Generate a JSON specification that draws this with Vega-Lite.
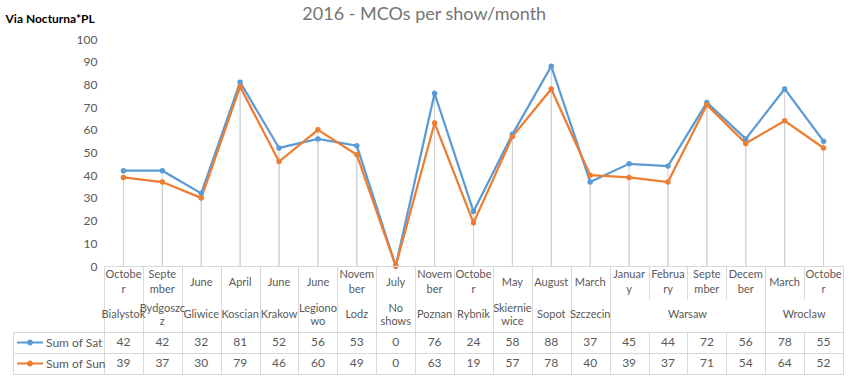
{
  "$schema": "https://vega.github.io/schema/vega-lite/v6.json",
  "padding": {"top": 6, "left": 5, "right": 5, "bottom": 5},
  "background": "white",
  "spacing": 0,
  "bounds": "flush",
  "config": {
    "font": "Lato",
    "view": {"stroke": null},
    "axis": {"labelFont": "Lato", "titleFont": "Lato"},
    "legend": {"labelFont": "Lato"}
  },
  "title": {"text": "2016 - MCOs per show/month", "fontSize": 18, "fontWeight": "normal", "color": "#757575", "anchor": "middle", "frame": "bounds", "offset": -12},
  "datasets": {
    "shows": [
      {"n": 1, "city": "Bialystok", "month": "Octobe\nr", "Sum of Sat": 42, "Sum of Sun": 39},
      {"n": 2, "city": "Bydgoszc\nz", "month": "Septe\nmber", "Sum of Sat": 42, "Sum of Sun": 37},
      {"n": 3, "city": "Gliwice", "month": "June", "Sum of Sat": 32, "Sum of Sun": 30},
      {"n": 4, "city": "Koscian", "month": "April", "Sum of Sat": 81, "Sum of Sun": 79},
      {"n": 5, "city": "Krakow", "month": "June", "Sum of Sat": 52, "Sum of Sun": 46},
      {"n": 6, "city": "Legiono\nwo", "month": "June", "Sum of Sat": 56, "Sum of Sun": 60},
      {"n": 7, "city": "Lodz", "month": "Novem\nber", "Sum of Sat": 53, "Sum of Sun": 49},
      {"n": 8, "city": "No\nshows", "month": "July", "Sum of Sat": 0, "Sum of Sun": 0},
      {"n": 9, "city": "Poznan", "month": "Novem\nber", "Sum of Sat": 76, "Sum of Sun": 63},
      {"n": 10, "city": "Rybnik", "month": "Octobe\nr", "Sum of Sat": 24, "Sum of Sun": 19},
      {"n": 11, "city": "Skiernie\nwice", "month": "May", "Sum of Sat": 58, "Sum of Sun": 57},
      {"n": 12, "city": "Sopot", "month": "August", "Sum of Sat": 88, "Sum of Sun": 78},
      {"n": 13, "city": "Szczecin", "month": "March", "Sum of Sat": 37, "Sum of Sun": 40},
      {"n": 14, "city": "Warsaw", "month": "Januar\ny", "Sum of Sat": 45, "Sum of Sun": 39},
      {"n": 15, "city": "Warsaw", "month": "Februa\nry", "Sum of Sat": 44, "Sum of Sun": 37},
      {"n": 16, "city": "Warsaw", "month": "Septe\nmber", "Sum of Sat": 72, "Sum of Sun": 71},
      {"n": 17, "city": "Warsaw", "month": "Decem\nber", "Sum of Sat": 56, "Sum of Sun": 54},
      {"n": 18, "city": "Wroclaw", "month": "March", "Sum of Sat": 78, "Sum of Sun": 64},
      {"n": 19, "city": "Wroclaw", "month": "Octobe\nr", "Sum of Sat": 55, "Sum of Sun": 52}
    ]
  },
  "resolve": {"scale": {"color": "independent"}, "legend": {"color": "independent"}},
  "vconcat": [
    {
      "width": 739,
      "height": 227,
      "encoding": {
        "x": {"field": "n", "type": "quantitative", "scale": {"domain": [0.5, 19.5], "nice": false, "zero": false},
          "axis": {"labels": false, "ticks": false, "grid": false, "domain": true, "domainColor": "#d9d9d9", "title": null, "zindex": 1}},
        "y": {"field": "value", "type": "quantitative", "scale": {"domain": [0, 100], "nice": false},
          "axis": {"title": "Via Nocturna*PL", "titleAngle": 0, "titleAlign": "left", "titleBaseline": "middle", "titleX": -99, "titleY": -21,
            "titleFontSize": 12, "titleFontWeight": "bold", "titleColor": "#000000",
            "values": [0, 10, 20, 30, 40, 50, 60, 70, 80, 90, 100], "labelColor": "#595959", "labelFontSize": 12, "labelPadding": 7,
            "ticks": false, "domain": false, "grid": false}}
      },
      "layer": [
        {
          "data": {"values": [{}]},
          "mark": {"type": "rect", "color": {"gradient": "linear", "x1": 0, "y1": 0, "x2": 0, "y2": 1,
            "stops": [{"offset": 0, "color": "#ffffff"}, {"offset": 0.2, "color": "#fdfdfd"}, {"offset": 1, "color": "#efefef"}]}},
          "encoding": {
            "x": {"datum": 0.5, "type": "quantitative"},
            "x2": {"datum": 19.5},
            "y": {"datum": 100, "type": "quantitative"},
            "y2": {"datum": 0}
          }
        },
        {
          "data": {"name": "shows"},
          "transform": [{"fold": ["Sum of Sat", "Sum of Sun"], "as": ["series", "value"]}],
          "mark": {"type": "rule", "color": "#d0d0d0", "strokeWidth": 1},
          "encoding": {"y2": {"datum": 0}}
        },
        {
          "data": {"name": "shows"},
          "transform": [{"fold": ["Sum of Sat", "Sum of Sun"], "as": ["series", "value"]}],
          "mark": {"type": "line", "strokeWidth": 2.25},
          "encoding": {
            "color": {"field": "series", "type": "nominal", "scale": {"domain": ["Sum of Sat", "Sum of Sun"], "range": ["#5b9bd5", "#ed7d31"]}, "legend": null}
          }
        },
        {
          "data": {"name": "shows"},
          "transform": [{"fold": ["Sum of Sat", "Sum of Sun"], "as": ["series", "value"]}],
          "mark": {"type": "point", "filled": true, "size": 30, "opacity": 1},
          "encoding": {
            "color": {"field": "series", "type": "nominal", "scale": {"domain": ["Sum of Sat", "Sum of Sun"], "range": ["#5b9bd5", "#ed7d31"]}, "legend": null}
          }
        }
      ]
    },
    {
      "width": 739,
      "height": 33,
      "data": {"name": "shows"},
      "encoding": {
        "x": {"field": "n", "type": "quantitative", "scale": {"domain": [0.5, 19.5], "nice": false, "zero": false},
          "axis": {"values": [0.5, 1.5, 2.5, 3.5, 4.5, 5.5, 6.5, 7.5, 8.5, 9.5, 10.5, 11.5, 12.5, 13.5, 14.5, 15.5, 16.5, 17.5, 18.5, 19.5],
            "labels": false, "ticks": false, "domain": false, "grid": true, "gridColor": "#d9d9d9", "title": null}},
        "text": {"field": "month", "type": "nominal"}
      },
      "layer": [
        {
          "transform": [{"filter": "indexof(datum.month, '\\n') < 0"}],
          "mark": {"type": "text", "lineBreak": "\n", "fontSize": 11, "color": "#595959", "lineHeight": 15, "baseline": "middle", "align": "center"}
        },
        {
          "transform": [{"filter": "indexof(datum.month, '\\n') >= 0"}],
          "mark": {"type": "text", "lineBreak": "\n", "fontSize": 11, "color": "#595959", "lineHeight": 15, "baseline": "middle", "align": "center", "dy": -7.5}
        }
      ]
    },
    {
      "width": 739,
      "height": 33,
      "data": {"name": "shows"},
      "transform": [{"aggregate": [{"op": "mean", "field": "n", "as": "n"}], "groupby": ["city"]}],
      "encoding": {
        "x": {"field": "n", "type": "quantitative", "scale": {"domain": [0.5, 19.5], "nice": false, "zero": false},
          "axis": {"values": [0.5, 1.5, 2.5, 3.5, 4.5, 5.5, 6.5, 7.5, 8.5, 9.5, 10.5, 11.5, 12.5, 13.5, 17.5, 19.5],
            "labels": false, "ticks": false, "domain": false, "grid": true, "gridColor": "#d9d9d9", "title": null}},
        "text": {"field": "city", "type": "nominal"}
      },
      "layer": [
        {
          "transform": [{"filter": "indexof(datum.city, '\\n') < 0"}],
          "mark": {"type": "text", "lineBreak": "\n", "fontSize": 11, "color": "#595959", "lineHeight": 13, "baseline": "middle", "align": "center", "dy": -1}
        },
        {
          "transform": [{"filter": "indexof(datum.city, '\\n') >= 0"}],
          "mark": {"type": "text", "lineBreak": "\n", "fontSize": 11, "color": "#595959", "lineHeight": 13, "baseline": "middle", "align": "center", "dy": -6.5}
        }
      ]
    },
    {
      "width": 739,
      "height": 42,
      "view": {"stroke": "#d9d9d9"},
      "data": {"name": "shows"},
      "transform": [{"fold": ["Sum of Sat", "Sum of Sun"], "as": ["series", "value"]}],
      "encoding": {
        "x": {"field": "n", "type": "quantitative", "scale": {"domain": [0.5, 19.5], "nice": false, "zero": false},
          "axis": {"values": [0.5, 1.5, 2.5, 3.5, 4.5, 5.5, 6.5, 7.5, 8.5, 9.5, 10.5, 11.5, 12.5, 13.5, 14.5, 15.5, 16.5, 17.5, 18.5, 19.5],
            "labels": false, "ticks": false, "domain": false, "grid": true, "gridColor": "#d9d9d9", "title": null}},
        "y": {"field": "series", "type": "nominal", "scale": {"domain": ["Sum of Sat", "Sum of Sun"], "paddingInner": 0, "paddingOuter": 0},
          "axis": {"labels": false, "title": null, "tickBand": "extent", "grid": true, "gridColor": "#d9d9d9", "tickColor": "#d9d9d9",
            "tickSize": -91, "offset": 91, "domain": true, "domainColor": "#d9d9d9"}}
      },
      "layer": [
        {
          "mark": {"type": "text", "fontSize": 12, "color": "#595959", "baseline": "middle", "dy": -1},
          "encoding": {"text": {"field": "value", "type": "quantitative"}}
        },
        {
          "mark": {"type": "point", "filled": true, "opacity": 0},
          "encoding": {
            "color": {"field": "series", "type": "nominal", "scale": {"domain": ["Sum of Sat", "Sum of Sun"], "range": ["#5b9bd5", "#ed7d31"]},
              "legend": {"orient": "none", "legendX": -87, "legendY": 0, "title": null,
                "symbolType": "M-1,-0.08H1V0.08H-1Z M0.23,0A0.23,0.23,0,1,1,-0.23,0A0.23,0.23,0,1,1,0.23,0Z",
                "symbolSize": 676, "symbolOpacity": 1, "symbolStrokeWidth": 0,
                "labelFontSize": 12, "labelColor": "#595959", "labelOffset": 3, "clipHeight": 21, "rowPadding": 0, "padding": 0}}
          }
        }
      ]
    }
  ]
}
